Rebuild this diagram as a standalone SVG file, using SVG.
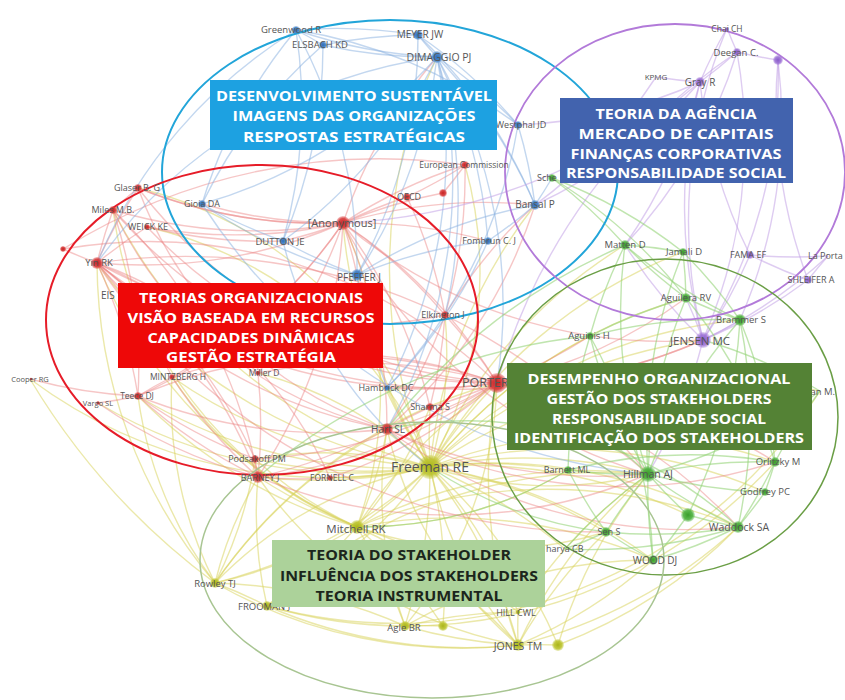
<svg xmlns="http://www.w3.org/2000/svg" width="845" height="700" viewBox="0 0 845 700">
<style>
#connectors path{fill:none;stroke-width:1.4}
.ey path{stroke:#d8d35c;stroke-opacity:.52}
.er path{stroke:#ec8080;stroke-opacity:.45}
.eb path{stroke:#8cb2e0;stroke-opacity:.52}
.ep path{stroke:#c3a2e6;stroke-opacity:.55}
.eg path{stroke:#92d276;stroke-opacity:.58}
.cl{fill:none}
.lbl{font-family:"Open Sans","Liberation Sans",sans-serif;fill:#555;text-anchor:middle}
.st{text-anchor:start}
.en{text-anchor:end}
.box text{font-family:"Open Sans","Liberation Sans",sans-serif;font-weight:700;font-size:14.5px;fill:#fff;text-anchor:middle}
.box.dark text{fill:#1c261c}
.nb circle{fill:url(#gb)}
.nr circle{fill:url(#gr)}
.np circle{fill:url(#gp)}
.ng circle{fill:url(#gg)}
.ny circle{fill:url(#gy)}
</style>
<defs>
<radialGradient id="gb"><stop offset="0" stop-color="#2f6fb8"/><stop offset=".65" stop-color="#3f80c6" stop-opacity=".9"/><stop offset="1" stop-color="#3f80c6" stop-opacity=".25"/></radialGradient>
<radialGradient id="gr"><stop offset="0" stop-color="#c42424"/><stop offset=".65" stop-color="#d83838" stop-opacity=".9"/><stop offset="1" stop-color="#d83838" stop-opacity=".25"/></radialGradient>
<radialGradient id="gp"><stop offset="0" stop-color="#8a5cc8"/><stop offset=".65" stop-color="#9d72d6" stop-opacity=".9"/><stop offset="1" stop-color="#9d72d6" stop-opacity=".25"/></radialGradient>
<radialGradient id="gg"><stop offset="0" stop-color="#3a9e2c"/><stop offset=".65" stop-color="#4cb03c" stop-opacity=".9"/><stop offset="1" stop-color="#4cb03c" stop-opacity=".25"/></radialGradient>
<radialGradient id="gy"><stop offset="0" stop-color="#aab41c"/><stop offset=".65" stop-color="#bcc42e" stop-opacity=".9"/><stop offset="1" stop-color="#bcc42e" stop-opacity=".25"/></radialGradient>
</defs>
<rect width="845" height="700" fill="#fff"/>
<g id="connectors">
<g class="ey">
<path d="M430 467A500 500 0 0 1 357 527"/><path d="M430 467A500 500 0 0 1 215 583"/><path d="M430 467A500 500 0 0 1 267 606"/><path d="M430 467A500 500 0 0 1 405 626"/><path d="M430 467A500 500 0 0 1 443 626"/><path d="M430 467A500 500 0 0 1 518 612"/><path d="M430 467A500 500 0 0 1 518 645"/><path d="M430 467A500 500 0 0 1 558 645"/><path d="M430 467A500 500 0 0 1 653 560"/><path d="M430 467A500 500 0 0 1 606 532"/><path d="M430 467A500 500 0 0 1 648 474"/><path d="M430 467A500 500 0 0 1 738 527"/><path d="M430 467A500 500 0 0 1 775 462"/><path d="M430 467A500 500 0 0 1 765 492"/><path d="M430 467A500 500 0 0 1 568 470"/><path d="M430 467A500 500 0 0 1 688 515"/><path d="M430 467A500 500 0 0 1 497 383"/><path d="M430 467A500 500 0 0 1 387 429"/><path d="M430 467A500 500 0 0 1 258 477"/><path d="M430 467A500 500 0 0 1 255 459"/><path d="M430 467A500 500 0 0 1 330 478"/><path d="M430 467A500 500 0 0 1 343 223"/><path d="M430 467A500 500 0 0 1 97 263"/><path d="M430 467A500 500 0 0 1 113 210"/><path d="M430 467A500 500 0 0 1 138 396"/><path d="M430 467A500 500 0 0 1 172 377"/><path d="M430 467A500 500 0 0 1 703 340"/><path d="M430 467A500 500 0 0 1 686 298"/><path d="M430 467A500 500 0 0 1 740 320"/><path d="M430 467A500 500 0 0 1 625 245"/><path d="M430 467A500 500 0 0 1 683 252"/><path d="M430 467A500 500 0 0 1 820 391"/><path d="M430 467A500 500 0 0 1 535 205"/><path d="M430 467A500 500 0 0 1 357 275"/><path d="M430 467A500 500 0 0 1 437 57"/><path d="M430 467A500 500 0 0 1 430 407"/><path d="M430 467A500 500 0 0 1 387 388"/><path d="M430 467A500 500 0 0 1 590 336"/><path d="M430 467A500 500 0 0 1 565 549"/><path d="M430 467A500 500 0 0 1 30 379"/><path d="M430 467A500 500 0 0 1 98 403"/>
<path d="M430 467A400 400 0 0 0 138 188"/><path d="M430 467A400 400 0 0 0 147 227"/><path d="M430 467A400 400 0 0 0 445 315"/><path d="M430 467A400 400 0 0 0 465 165"/><path d="M430 467A400 400 0 0 0 258 373"/><path d="M430 467A400 400 0 0 0 255 459"/><path d="M430 467A400 400 0 0 0 215 583"/><path d="M430 467A400 400 0 0 0 518 645"/><path d="M430 467A400 400 0 0 0 648 474"/>
<path d="M357 527A500 500 0 0 1 215 583"/><path d="M357 527A500 500 0 0 1 267 606"/><path d="M357 527A500 500 0 0 1 405 626"/><path d="M357 527A500 500 0 0 1 518 645"/><path d="M357 527A500 500 0 0 1 518 612"/><path d="M357 527A500 500 0 0 1 653 560"/><path d="M357 527A500 500 0 0 1 648 474"/><path d="M357 527A500 500 0 0 1 497 383"/><path d="M357 527A500 500 0 0 1 258 477"/><path d="M357 527A500 500 0 0 1 443 626"/><path d="M357 527A500 500 0 0 1 738 527"/><path d="M357 527A500 500 0 0 1 97 263"/><path d="M357 527A500 500 0 0 1 138 396"/>
<path d="M357 527A400 400 0 0 1 113 210"/><path d="M357 527A400 400 0 0 0 343 223"/><path d="M357 527A400 400 0 0 1 255 459"/><path d="M357 527A400 400 0 0 1 172 377"/><path d="M357 527A400 400 0 0 0 387 429"/><path d="M357 527A400 400 0 0 0 430 407"/><path d="M357 527A400 400 0 0 0 606 532"/><path d="M357 527A400 400 0 0 0 568 470"/>
<path d="M215 583A500 500 0 0 1 267 606"/><path d="M215 583A500 500 0 0 1 405 626"/><path d="M215 583A500 500 0 0 0 518 645"/><path d="M215 583A500 500 0 0 1 97 263"/><path d="M215 583A500 500 0 0 1 497 383"/><path d="M215 583A500 500 0 0 1 387 429"/><path d="M215 583A400 400 0 0 1 138 396"/><path d="M215 583A400 400 0 0 1 258 477"/><path d="M215 583A400 400 0 0 1 172 377"/><path d="M215 583A400 400 0 0 0 255 459"/>
<path d="M267 606A500 500 0 0 0 405 626"/><path d="M267 606A500 500 0 0 0 518 645"/><path d="M267 606A500 500 0 0 1 648 474"/><path d="M267 606A400 400 0 0 1 258 477"/><path d="M405 626A500 500 0 0 0 518 645"/><path d="M405 626A500 500 0 0 1 443 626"/><path d="M405 626A500 500 0 0 1 518 612"/><path d="M405 626A500 500 0 0 1 653 560"/><path d="M405 626A400 400 0 0 1 387 429"/><path d="M405 626A400 400 0 0 0 497 383"/>
<path d="M518 645A500 500 0 0 1 518 612"/><path d="M518 645A500 500 0 0 1 558 645"/><path d="M518 645A500 500 0 0 0 653 560"/><path d="M518 645A500 500 0 0 1 648 474"/><path d="M518 645A500 500 0 0 0 738 527"/><path d="M518 645A500 500 0 0 1 497 383"/><path d="M518 645A500 500 0 0 1 606 532"/><path d="M518 645A400 400 0 0 1 387 429"/><path d="M518 645A400 400 0 0 1 258 477"/><path d="M558 645A500 500 0 0 0 738 527"/><path d="M558 645A500 500 0 0 1 648 474"/><path d="M518 612A500 500 0 0 1 648 474"/><path d="M215 583A700 700 0 0 1 30 379"/><path d="M267 606A500 500 0 0 0 820 391"/><path d="M405 626A500 500 0 0 0 775 462"/>
</g>
<g class="er">
<path d="M343 223A500 500 0 0 1 97 263"/><path d="M343 223A500 500 0 0 1 113 210"/><path d="M343 223A500 500 0 0 1 138 188"/><path d="M343 223A500 500 0 0 1 147 227"/><path d="M343 223A500 500 0 0 1 437 57"/><path d="M343 223A500 500 0 0 1 407 197"/><path d="M343 223A500 500 0 0 1 465 165"/><path d="M343 223A500 500 0 0 1 443 193"/><path d="M343 223A500 500 0 0 1 497 383"/><path d="M343 223A500 500 0 0 1 387 429"/><path d="M343 223A500 500 0 0 1 258 477"/><path d="M343 223A500 500 0 0 1 357 275"/><path d="M343 223A500 500 0 0 1 445 315"/><path d="M343 223A500 500 0 0 1 172 377"/><path d="M343 223A500 500 0 0 1 138 396"/><path d="M343 223A500 500 0 0 1 488 241"/><path d="M343 223A500 500 0 0 1 535 205"/><path d="M343 223A500 500 0 0 1 283 241"/><path d="M343 223A500 500 0 0 1 202 204"/><path d="M343 223A500 500 0 0 1 258 373"/><path d="M343 223A500 500 0 0 1 430 407"/><path d="M343 223A500 500 0 0 0 703 340"/><path d="M343 223A500 500 0 0 0 648 474"/>
<path d="M97 263A500 500 0 0 0 497 383"/><path d="M97 263A500 500 0 0 1 258 477"/><path d="M97 263A500 500 0 0 1 113 210"/><path d="M97 263A500 500 0 0 1 138 396"/><path d="M97 263A500 500 0 0 0 387 429"/><path d="M97 263A500 500 0 0 1 63 249"/><path d="M97 263A500 500 0 0 1 138 188"/><path d="M97 263A500 500 0 0 1 147 227"/><path d="M97 263A500 500 0 0 1 172 377"/><path d="M97 263A500 500 0 0 1 255 459"/><path d="M97 263A500 500 0 0 1 258 373"/><path d="M97 263A500 500 0 0 0 445 315"/><path d="M97 263A600 600 0 0 0 703 340"/><path d="M97 263A600 600 0 0 1 648 474"/><path d="M97 263A600 600 0 0 0 606 532"/><path d="M97 263A400 400 0 0 1 330 478"/>
<path d="M113 210A500 500 0 0 1 138 188"/><path d="M113 210A500 500 0 0 0 497 383"/><path d="M113 210A500 500 0 0 1 258 477"/><path d="M113 210A500 500 0 0 1 138 396"/><path d="M113 210A400 400 0 0 0 387 429"/><path d="M138 188A500 500 0 0 0 497 383"/><path d="M138 188A400 400 0 0 0 387 429"/><path d="M147 227A500 500 0 0 0 497 383"/><path d="M147 227A500 500 0 0 0 283 241"/><path d="M138 188A500 500 0 0 0 343 223"/>
<path d="M497 383A500 500 0 0 1 258 477"/><path d="M497 383A500 500 0 0 1 387 429"/><path d="M497 383A500 500 0 0 0 138 396"/><path d="M497 383A500 500 0 0 0 172 377"/><path d="M497 383A500 500 0 0 1 430 407"/><path d="M497 383A500 500 0 0 1 255 459"/><path d="M497 383A500 500 0 0 1 330 478"/><path d="M497 383A500 500 0 0 0 258 373"/><path d="M497 383A500 500 0 0 0 703 340"/><path d="M497 383A500 500 0 0 0 445 315"/><path d="M497 383A500 500 0 0 1 387 388"/><path d="M497 383A500 500 0 0 0 686 298"/><path d="M497 383A500 500 0 0 1 648 474"/><path d="M497 383A500 500 0 0 0 590 336"/><path d="M497 383A500 500 0 0 1 738 527"/><path d="M497 383A500 500 0 0 1 775 462"/><path d="M497 383A500 500 0 0 0 63 249"/>
<path d="M258 477A500 500 0 0 1 138 396"/><path d="M258 477A500 500 0 0 0 387 429"/><path d="M258 477A500 500 0 0 1 255 459"/><path d="M258 477A500 500 0 0 0 330 478"/><path d="M258 477A500 500 0 0 1 172 377"/><path d="M258 477A500 500 0 0 0 258 373"/><path d="M258 477A500 500 0 0 0 648 474"/>
<path d="M387 429A500 500 0 0 1 430 407"/><path d="M387 429A500 500 0 0 0 535 205"/><path d="M387 429A500 500 0 0 0 445 315"/><path d="M387 429A500 500 0 0 1 138 396"/><path d="M387 429A500 500 0 0 0 648 474"/><path d="M387 429A500 500 0 0 0 738 527"/><path d="M387 429A500 500 0 0 0 775 462"/>
<path d="M138 396A500 500 0 0 1 172 377"/><path d="M138 396A500 500 0 0 1 98 403"/><path d="M138 396A500 500 0 0 0 255 459"/><path d="M465 165A500 500 0 0 1 407 197"/><path d="M465 165A500 500 0 0 1 443 193"/><path d="M465 165A500 500 0 0 1 445 315"/><path d="M407 197A500 500 0 0 1 445 315"/><path d="M445 315A500 500 0 0 1 535 205"/><path d="M445 315A500 500 0 0 1 430 407"/><path d="M30 379A500 500 0 0 0 138 396"/><path d="M98 403A500 500 0 0 0 258 477"/><path d="M63 249A600 600 0 0 1 465 165"/>
</g>
<g class="eb">
<path d="M437 57A500 500 0 0 1 418 35"/><path d="M437 57A500 500 0 0 1 296 30"/><path d="M437 57A500 500 0 0 1 323 45"/><path d="M437 57A500 500 0 0 1 518 125"/><path d="M437 57A500 500 0 0 1 357 275"/><path d="M437 57A500 500 0 0 1 202 204"/><path d="M437 57A500 500 0 0 1 283 241"/><path d="M437 57A500 500 0 0 1 535 205"/><path d="M437 57A500 500 0 0 1 488 241"/><path d="M437 57A500 500 0 0 1 387 388"/><path d="M437 57A500 500 0 0 1 445 315"/><path d="M437 57A500 500 0 0 1 387 429"/><path d="M437 57A500 500 0 0 1 497 383"/><path d="M437 57A500 500 0 0 0 97 263"/>
<path d="M296 30A500 500 0 0 1 418 35"/><path d="M296 30A500 500 0 0 1 323 45"/><path d="M296 30A500 500 0 0 1 357 275"/><path d="M296 30A500 500 0 0 0 202 204"/><path d="M296 30A500 500 0 0 1 283 241"/><path d="M296 30A500 500 0 0 1 518 125"/><path d="M418 35A500 500 0 0 1 518 125"/><path d="M418 35A500 500 0 0 0 323 45"/><path d="M418 35A500 500 0 0 1 357 275"/><path d="M418 35A500 500 0 0 1 535 205"/>
<path d="M323 45A500 500 0 0 1 283 241"/><path d="M323 45A500 500 0 0 0 202 204"/><path d="M202 204A500 500 0 0 0 283 241"/><path d="M202 204A500 500 0 0 0 357 275"/><path d="M283 241A500 500 0 0 0 357 275"/><path d="M357 275A500 500 0 0 0 387 388"/><path d="M357 275A500 500 0 0 1 488 241"/><path d="M357 275A500 500 0 0 1 535 205"/><path d="M535 205A500 500 0 0 0 518 125"/><path d="M535 205A500 500 0 0 1 488 241"/><path d="M535 205A500 500 0 0 0 552 178"/><path d="M488 241A500 500 0 0 1 387 388"/><path d="M518 125A500 500 0 0 1 387 388"/><path d="M202 204A600 600 0 0 0 648 474"/><path d="M283 241A400 400 0 0 0 430 467"/><path d="M296 30A500 500 0 0 0 97 263"/>
</g>
<g class="ep">
<path d="M703 340A500 500 0 0 0 750 255"/><path d="M703 340A500 500 0 0 0 808 280"/><path d="M703 340A500 500 0 0 0 828 256"/><path d="M703 340A500 500 0 0 1 700 82"/><path d="M703 340A500 500 0 0 0 737 52"/><path d="M703 340A500 500 0 0 0 778 60"/><path d="M703 340A500 500 0 0 1 727 28"/><path d="M700 82A500 500 0 0 0 737 52"/><path d="M700 82A500 500 0 0 1 656 77"/><path d="M700 82A500 500 0 0 1 727 28"/><path d="M737 52A500 500 0 0 1 727 28"/><path d="M737 52A500 500 0 0 0 778 60"/><path d="M750 255A500 500 0 0 0 808 280"/><path d="M750 255A500 500 0 0 0 828 256"/><path d="M808 280A500 500 0 0 1 828 256"/><path d="M703 340A500 500 0 0 1 648 474"/><path d="M703 340A500 500 0 0 0 686 298"/><path d="M703 340A500 500 0 0 0 740 320"/><path d="M700 82A500 500 0 0 1 535 205"/><path d="M700 82A500 500 0 0 1 625 245"/><path d="M778 60A500 500 0 0 1 740 320"/><path d="M700 82A500 500 0 0 1 518 125"/><path d="M656 77A500 500 0 0 1 535 205"/><path d="M737 52A500 500 0 0 1 625 245"/><path d="M750 255A500 500 0 0 1 700 82"/><path d="M703 340A500 500 0 0 1 625 245"/><path d="M778 60A500 500 0 0 0 808 280"/><path d="M700 82A600 600 0 0 1 343 223"/><path d="M737 52A600 600 0 0 0 497 383"/>
</g>
<g class="eg">
<path d="M648 474A500 500 0 0 1 568 470"/><path d="M648 474A500 500 0 0 1 775 462"/><path d="M648 474A500 500 0 0 0 765 492"/><path d="M648 474A500 500 0 0 0 738 527"/><path d="M648 474A500 500 0 0 0 606 532"/><path d="M648 474A500 500 0 0 0 653 560"/><path d="M648 474A500 500 0 0 0 688 515"/><path d="M648 474A500 500 0 0 1 740 320"/><path d="M648 474A500 500 0 0 1 686 298"/><path d="M648 474A500 500 0 0 1 625 245"/><path d="M648 474A500 500 0 0 1 683 252"/><path d="M648 474A500 500 0 0 1 590 336"/><path d="M648 474A500 500 0 0 0 820 391"/><path d="M648 474A500 500 0 0 0 565 549"/>
<path d="M738 527A500 500 0 0 0 775 462"/><path d="M738 527A500 500 0 0 0 765 492"/><path d="M738 527A500 500 0 0 1 653 560"/><path d="M738 527A500 500 0 0 1 688 515"/><path d="M738 527A500 500 0 0 1 606 532"/><path d="M738 527A500 500 0 0 0 740 320"/><path d="M606 532A500 500 0 0 1 565 549"/><path d="M606 532A500 500 0 0 1 568 470"/><path d="M606 532A500 500 0 0 0 653 560"/><path d="M653 560A500 500 0 0 0 688 515"/><path d="M568 470A500 500 0 0 1 775 462"/><path d="M775 462A500 500 0 0 1 765 492"/><path d="M775 462A500 500 0 0 0 740 320"/>
<path d="M625 245A500 500 0 0 1 683 252"/><path d="M625 245A500 500 0 0 0 686 298"/><path d="M625 245A500 500 0 0 0 740 320"/><path d="M625 245A500 500 0 0 0 552 178"/><path d="M683 252A500 500 0 0 1 686 298"/><path d="M683 252A500 500 0 0 1 740 320"/><path d="M686 298A500 500 0 0 0 740 320"/><path d="M686 298A500 500 0 0 0 590 336"/><path d="M740 320A500 500 0 0 0 590 336"/><path d="M590 336A500 500 0 0 1 625 245"/><path d="M820 391A500 500 0 0 0 703 340"/><path d="M820 391A500 500 0 0 0 775 462"/><path d="M688 515A500 500 0 0 0 740 320"/><path d="M552 178A500 500 0 0 1 683 252"/><path d="M552 178A500 500 0 0 1 686 298"/><path d="M590 336A500 500 0 0 0 568 470"/><path d="M590 336A500 500 0 0 1 653 560"/><path d="M686 298A500 500 0 0 1 775 462"/><path d="M565 549A500 500 0 0 0 738 527"/><path d="M590 336A600 600 0 0 0 258 477"/><path d="M625 245A600 600 0 0 0 387 429"/><path d="M648 474A400 400 0 0 0 497 383"/><path d="M738 527A400 400 0 0 0 387 429"/><path d="M606 532A400 400 0 0 1 430 467"/><path d="M568 470A400 400 0 0 1 357 527"/>
</g>
</g>
<g id="clusters">
<ellipse class="cl" cx="390" cy="172" rx="228" ry="152" stroke="#22a5d9" stroke-width="2"/>
<ellipse class="cl" cx="675" cy="172" rx="170" ry="148" stroke="#b27ad9" stroke-width="1.8"/>
<ellipse class="cl" cx="262" cy="320" rx="216" ry="155" stroke="#e61c28" stroke-width="2"/>
<ellipse class="cl" cx="665" cy="417" rx="173" ry="158" stroke="#6a9e45" stroke-width="1.5"/>
<ellipse class="cl" cx="432" cy="560" rx="232" ry="138" stroke="#a8c592" stroke-width="1.5"/>
</g>
<g id="n-greenwood" class="nb"><circle cx="296" cy="30" r="4"/><text class="lbl" x="291" y="33" font-size="9.5">Greenwood R</text></g>
<g id="n-elsbach" class="nb"><circle cx="323" cy="45" r="4"/><text class="lbl" x="320" y="48" font-size="9.5">ELSBACH KD</text></g>
<g id="n-meyer" class="nb"><circle cx="418" cy="35" r="5"/><text class="lbl" x="420" y="38" font-size="10">MEYER JW</text></g>
<g id="n-dimaggio" class="nb"><circle cx="437" cy="57" r="6"/><text class="lbl" x="439" y="61" font-size="10.5">DIMAGGIO PJ</text></g>
<g id="n-westphal" class="nb"><circle cx="518" cy="125" r="4"/><text class="lbl" x="521" y="128" font-size="9">Westphal JD</text></g>
<g id="n-gioia" class="nb"><circle cx="202" cy="204" r="4"/><text class="lbl" x="202" y="207" font-size="9">Gioia DA</text></g>
<g id="n-dutton" class="nb"><circle cx="283" cy="241" r="4"/><text class="lbl" x="280" y="245" font-size="9.5">DUTTON JE</text></g>
<g id="n-pfeffer" class="nb"><circle cx="357" cy="275" r="6"/><text class="lbl" x="359" y="281" font-size="10">PFEFFER J</text></g>
<g id="n-fombrun" class="nb"><circle cx="488" cy="241" r="4"/><text class="lbl" x="489" y="244" font-size="9">Fombrun C. J</text></g>
<g id="n-bansal" class="nb"><circle cx="535" cy="205" r="5"/><text class="lbl" x="535" y="208" font-size="10">Bansal P</text></g>
<g id="n-hambrick" class="nb"><circle cx="387" cy="388" r="3"/><text class="lbl" x="386" y="391" font-size="9">Hambrick DC</text></g>
<g id="n-anonymous" class="nr"><circle cx="343" cy="223" r="7"/><text class="lbl" x="342" y="227" font-size="11">[Anonymous]</text></g>
<g id="n-oecd" class="nr"><circle cx="407" cy="197" r="4"/><text class="lbl" x="409" y="200" font-size="9">OECD</text></g>
<g id="n-european" class="nr"><circle cx="465" cy="165" r="4"/><text class="lbl" x="464" y="168" font-size="8.5">European Commission</text></g>
<g id="n-red1" class="nr"><circle cx="443" cy="193" r="4"/></g>
<g id="n-glaser" class="nr"><circle cx="138" cy="188" r="4"/><text class="lbl" x="137" y="191" font-size="9">Glaser B. G</text></g>
<g id="n-miles" class="nr"><circle cx="113" cy="210" r="4"/><text class="lbl" x="113" y="213" font-size="9">Miles M.B.</text></g>
<g id="n-weick" class="nr"><circle cx="147" cy="227" r="3"/><text class="lbl" x="148" y="230" font-size="9">WEICK KE</text></g>
<g id="n-red2" class="nr"><circle cx="63" cy="249" r="3"/></g>
<g id="n-yin" class="nr"><circle cx="97" cy="263" r="6"/><text class="lbl" x="99" y="266" font-size="9.5">Yin RK</text></g>
<g id="n-eisenhardt" class="nr"><text class="lbl st" x="101" y="299" font-size="10">EIS</text></g>
<g id="n-cooper" class="nr"><circle cx="31" cy="379" r="1.5"/><text class="lbl" x="30" y="382" font-size="7.5">Cooper RG</text></g>
<g id="n-mintzberg" class="nr"><circle cx="172" cy="377" r="3"/><text class="lbl" x="178" y="380" font-size="8.5">MINTZBERG H</text></g>
<g id="n-miller" class="nr"><circle cx="258" cy="373" r="2.5"/><text class="lbl" x="264" y="376" font-size="8.5">Miller D</text></g>
<g id="n-teece" class="nr"><circle cx="138" cy="396" r="4"/><text class="lbl" x="137" y="399" font-size="8.5">Teece DJ</text></g>
<g id="n-vargo" class="nr"><circle cx="98" cy="403" r="2"/><text class="lbl" x="98" y="406" font-size="7.5">Vargo SL</text></g>
<g id="n-elkington" class="nr"><circle cx="445" cy="315" r="4"/><text class="lbl" x="443" y="318" font-size="9">Elkington J</text></g>
<g id="n-porter" class="nr"><circle cx="497" cy="383" r="10"/><text class="lbl st" x="462" y="387" font-size="12.5">PORTER</text></g>
<g id="n-sharma" class="nr"><circle cx="430" cy="407" r="4"/><text class="lbl" x="430" y="410" font-size="9">Sharma S</text></g>
<g id="n-hart" class="nr"><circle cx="387" cy="429" r="6"/><text class="lbl" x="388" y="433" font-size="10">Hart SL</text></g>
<g id="n-podsakoff" class="nr"><circle cx="255" cy="459" r="4"/><text class="lbl" x="257" y="462" font-size="9">Podsakoff PM</text></g>
<g id="n-barney" class="nr"><circle cx="258" cy="477" r="6"/><text class="lbl" x="260" y="481" font-size="9">BARNEY J</text></g>
<g id="n-fornell" class="nr"><circle cx="330" cy="478" r="3"/><text class="lbl" x="332" y="481" font-size="8.5">FORNELL C</text></g>
<g id="n-chai" class="np"><circle cx="727" cy="29" r="2"/><text class="lbl" x="727" y="32" font-size="8.5">Chai CH</text></g>
<g id="n-deegan" class="np"><circle cx="737" cy="52" r="4"/><text class="lbl" x="736" y="56" font-size="9.5">Deegan C.</text></g>
<g id="n-purple1" class="np"><circle cx="778" cy="60" r="5"/></g>
<g id="n-kpmg" class="np"><text class="lbl" x="656" y="80" font-size="8">KPMG</text></g>
<g id="n-gray" class="np"><circle cx="700" cy="82" r="5"/><text class="lbl" x="700" y="86" font-size="10">Gray R</text></g>
<g id="n-fama" class="np"><circle cx="750" cy="255" r="4"/><text class="lbl" x="748" y="258" font-size="9">FAMA EF</text></g>
<g id="n-laporta" class="np"><text class="lbl st" x="808" y="259" font-size="9">La Porta</text></g>
<g id="n-shleifer" class="np"><circle cx="808" cy="280" r="4"/><text class="lbl" x="811" y="283" font-size="9">SHLEIFER A</text></g>
<g id="n-jensen" class="np"><circle cx="703" cy="340" r="8"/><text class="lbl" x="700" y="345" font-size="11.5">JENSEN MC</text></g>
<g id="n-schaltegger" class="ng"><circle cx="552" cy="178" r="4"/><text class="lbl st" x="537" y="181" font-size="9">Sche</text></g>
<g id="n-matten" class="ng"><circle cx="625" cy="245" r="5"/><text class="lbl" x="625" y="248" font-size="9.5">Matten D</text></g>
<g id="n-jamali" class="ng"><circle cx="683" cy="252" r="4"/><text class="lbl" x="684" y="255" font-size="9.5">Jamali D</text></g>
<g id="n-aguilera" class="ng"><circle cx="686" cy="298" r="5"/><text class="lbl" x="686" y="301" font-size="9.5">Aguilera RV</text></g>
<g id="n-brammer" class="ng"><circle cx="740" cy="320" r="6"/><text class="lbl" x="741" y="323" font-size="9.5">Brammer S</text></g>
<g id="n-aguinis" class="ng"><circle cx="590" cy="336" r="4"/><text class="lbl" x="589" y="339" font-size="9.5">Aguinis H</text></g>
<g id="n-friedman" class="ng"><text class="lbl en" x="835" y="395" font-size="9.5">an M.</text></g>
<g id="n-barnett" class="ng"><circle cx="568" cy="470" r="4"/><text class="lbl" x="567" y="473" font-size="9">Barnett ML</text></g>
<g id="n-hillman" class="ng"><circle cx="648" cy="474" r="8"/><text class="lbl" x="648" y="478" font-size="10.5">Hillman AJ</text></g>
<g id="n-orlitzky" class="ng"><circle cx="775" cy="462" r="5"/><text class="lbl" x="778" y="465" font-size="9.5">Orlitzky M</text></g>
<g id="n-godfrey" class="ng"><circle cx="765" cy="492" r="4"/><text class="lbl" x="765" y="495" font-size="9.5">Godfrey PC</text></g>
<g id="n-green1" class="ng"><circle cx="688" cy="515" r="7"/></g>
<g id="n-waddock" class="ng"><circle cx="738" cy="527" r="6"/><text class="lbl" x="739" y="531" font-size="10.5">Waddock SA</text></g>
<g id="n-sen" class="ng"><circle cx="606" cy="532" r="5"/><text class="lbl" x="609" y="535" font-size="9">Sen S</text></g>
<g id="n-bhattacharya" class="ng"><text class="lbl st" x="546" y="552" font-size="9">harya CB</text></g>
<g id="n-wood" class="ng"><circle cx="653" cy="560" r="5"/><text class="lbl" x="655" y="564" font-size="10">WOOD DJ</text></g>
<g id="n-freeman" class="ny"><circle cx="430" cy="467" r="12"/><text class="lbl" x="430" y="472" font-size="14">Freeman RE</text></g>
<g id="n-mitchell" class="ny"><circle cx="357" cy="527" r="7"/><text class="lbl" x="356" y="533" font-size="11.5">Mitchell RK</text></g>
<g id="n-rowley" class="ny"><circle cx="215" cy="583" r="5"/><text class="lbl" x="215" y="587" font-size="9.5">Rowley TJ</text></g>
<g id="n-frooman" class="ny"><circle cx="267" cy="606" r="5"/><text class="lbl st" x="238" y="610" font-size="9.5">FROOMAN J</text></g>
<g id="n-agle" class="ny"><circle cx="405" cy="626" r="5"/><text class="lbl" x="404" y="631" font-size="9.5">Agle BR</text></g>
<g id="n-yellow1" class="ny"><circle cx="443" cy="626" r="5"/></g>
<g id="n-hill" class="ny"><circle cx="518" cy="612" r="2.5"/><text class="lbl" x="516" y="616" font-size="9">HILL CWL</text></g>
<g id="n-jones" class="ny"><circle cx="518" cy="645" r="6"/><text class="lbl" x="518" y="650" font-size="10.5">JONES TM</text></g>
<g id="n-yellow2" class="ny"><circle cx="558" cy="645" r="6"/></g>
<g id="box-blue" class="box"><rect x="210" y="80" width="287" height="70" fill="#1da1e1"/>
<text x="354" y="101" textLength="276" lengthAdjust="spacingAndGlyphs">DESENVOLVIMENTO SUSTENTÁVEL</text>
<text x="354" y="121" textLength="243" lengthAdjust="spacingAndGlyphs">IMAGENS DAS ORGANIZAÇÕES</text>
<text x="354" y="142" textLength="222" lengthAdjust="spacingAndGlyphs">RESPOSTAS ESTRATÉGICAS</text></g>
<g id="box-purple" class="box"><rect x="560" y="98" width="233" height="85" fill="#4263ae"/>
<text x="676" y="119" textLength="161" lengthAdjust="spacingAndGlyphs">TEORIA DA AGÊNCIA</text>
<text x="676" y="139" textLength="195" lengthAdjust="spacingAndGlyphs">MERCADO DE CAPITAIS</text>
<text x="676" y="159" textLength="211" lengthAdjust="spacingAndGlyphs">FINANÇAS CORPORATIVAS</text>
<text x="676" y="178" textLength="220" lengthAdjust="spacingAndGlyphs">RESPONSABILIDADE SOCIAL</text></g>
<g id="box-red" class="box"><rect x="118" y="283" width="265" height="85" fill="#ee0808"/>
<text x="251" y="303" textLength="224" lengthAdjust="spacingAndGlyphs">TEORIAS ORGANIZACIONAIS</text>
<text x="251" y="323" textLength="247" lengthAdjust="spacingAndGlyphs">VISÃO BASEADA EM RECURSOS</text>
<text x="251" y="343" textLength="207" lengthAdjust="spacingAndGlyphs">CAPACIDADES DINÂMICAS</text>
<text x="251" y="362" textLength="170" lengthAdjust="spacingAndGlyphs">GESTÃO ESTRATÉGIA</text></g>
<g id="box-green" class="box"><rect x="507" y="363" width="305" height="87" fill="#548235"/>
<text x="659" y="384" textLength="263" lengthAdjust="spacingAndGlyphs">DESEMPENHO ORGANIZACIONAL</text>
<text x="659" y="404" textLength="225" lengthAdjust="spacingAndGlyphs">GESTÃO DOS STAKEHOLDERS</text>
<text x="659" y="424" textLength="214" lengthAdjust="spacingAndGlyphs">RESPONSABILIDADE SOCIAL</text>
<text x="659" y="443" textLength="290" lengthAdjust="spacingAndGlyphs">IDENTIFICAÇÃO DOS STAKEHOLDERS</text></g>
<g id="box-light" class="box dark"><rect x="272" y="540" width="273" height="67" fill="#acd29a"/>
<text x="409" y="560" textLength="204" lengthAdjust="spacingAndGlyphs">TEORIA DO STAKEHOLDER</text>
<text x="409" y="581" textLength="258" lengthAdjust="spacingAndGlyphs">INFLUÊNCIA DOS STAKEHOLDERS</text>
<text x="409" y="601" textLength="187" lengthAdjust="spacingAndGlyphs">TEORIA INSTRUMENTAL</text></g>
</svg>
